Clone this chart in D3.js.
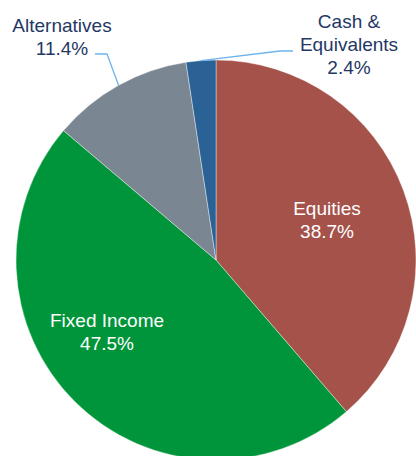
<!DOCTYPE html>
<html><head><meta charset="utf-8">
<script src="https://cdn.jsdelivr.net/npm/d3@7"></script>
<style>html,body{margin:0;padding:0;background:#fff;}svg{display:block;}</style>
</head><body>
<svg id="chart" width="416" height="456"></svg>
<script>
const categories = ["Equities", "Fixed Income", "Alternatives", "Cash & Equivalents"];
const values = [38.7, 47.5, 11.4, 2.4];
const colors = ["#A5524A", "#00953A", "#7B8693", "#2A6296"];

const W = 416, H = 456, cx = 216, cy = 260, R = 200;
const svg = d3.select("#chart");
const g = svg.append("g").attr("transform", `translate(${cx},${cy})`);

const pie = d3.pie().sort(null).value(d => d.v);
const data = pie(categories.map((c, i) => ({c, v: values[i], col: colors[i]})));
const arc = d3.arc().innerRadius(0).outerRadius(R);

g.selectAll("path.slice").data(data).enter().append("path")
  .attr("class", "slice")
  .attr("d", arc)
  .attr("fill", d => d.data.col)
  .attr("stroke", "#ffffff").attr("stroke-width", 0.4);

const font = "'Liberation Sans', Arial, sans-serif";
const fs = 19, lh = 23;
// inside labels [slice index, dx, first baseline dy]
const inside = [[0, 111, -45], [1, -109, 67]];
inside.forEach(([i, dx, dy]) => {
  const d = data[i];
  const t = g.append("text").attr("text-anchor", "middle").attr("fill", "#ffffff")
    .style("font-family", font).style("font-size", fs + "px");
  t.append("tspan").attr("x", dx).attr("y", dy).text(d.data.c);
  t.append("tspan").attr("x", dx).attr("y", dy + lh).text(d3.format(".1f")(d.data.v) + "%");
});

// outside labels with leaders
const navy = "#1F3864", leader = "#6CB4EE";
function outside(i, lines, tx, ty, pts) {
  const d = data[i];
  const a = (d.startAngle + d.endAngle) / 2;
  const edge = [Math.sin(a) * R, -Math.cos(a) * R];
  g.append("path").attr("d", d3.line()(pts.concat([edge])))
    .attr("fill", "none").attr("stroke", leader).attr("stroke-width", 1.3);
  const t = g.append("text").attr("text-anchor", "middle").attr("fill", navy)
    .style("font-family", font).style("font-size", fs + "px");
  lines.forEach((l, k) => t.append("tspan").attr("x", tx).attr("y", ty + k * lh).text(l));
}
outside(2, ["Alternatives", d3.format(".1f")(values[2]) + "%"], -154, -228,
  [[-121, -206], [-109, -206]]);
outside(3, ["Cash &", "Equivalents", d3.format(".1f")(values[3]) + "%"], 133, -232,
  [[77, -209], [64, -209]]);
</script>
</body></html>
